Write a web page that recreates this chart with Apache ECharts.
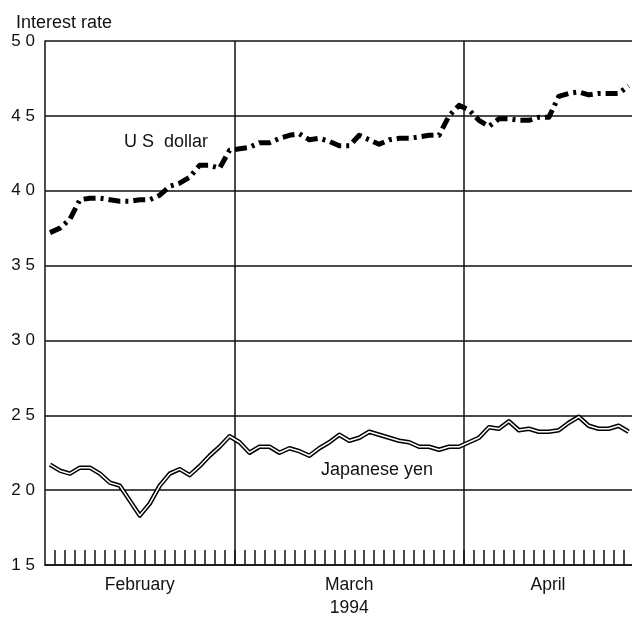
<!DOCTYPE html>
<html>
<head>
<meta charset="utf-8">
<script src="https://cdn.jsdelivr.net/npm/echarts@6/dist/echarts.min.js"></script>
<style>
  html, body { margin: 0; padding: 0; background: #fff; }
  #chart { width: 632px; height: 624px; }
</style>
</head>
<body>
<div id="chart"></div>
<script>
// Daily interest rates, February–April 1994 (one value per business day)
const usDollar = [
  3.72, 3.75, 3.81, 3.94, 3.95, 3.95, 3.94, 3.93, 3.93, 3.94,
  3.94, 3.97, 4.03, 4.05, 4.09, 4.17, 4.17, 4.15, 4.27,
  4.28, 4.29, 4.32, 4.32, 4.35, 4.37, 4.38, 4.34, 4.35, 4.33,
  4.30, 4.30, 4.37, 4.34, 4.31, 4.34, 4.35, 4.35, 4.36, 4.37,
  4.37, 4.50, 4.57,
  4.54, 4.47, 4.43, 4.48, 4.48, 4.47, 4.47, 4.49, 4.49, 4.63,
  4.65, 4.66, 4.64, 4.65, 4.65, 4.65, 4.70
];
const japaneseYen = [
  2.17, 2.13, 2.11, 2.15, 2.15, 2.11, 2.05, 2.03, 1.93, 1.83,
  1.91, 2.03, 2.11, 2.14, 2.10, 2.16, 2.23, 2.29, 2.36,
  2.32, 2.25, 2.29, 2.29, 2.25, 2.28, 2.26, 2.23, 2.28, 2.32,
  2.37, 2.33, 2.35, 2.39, 2.37, 2.35, 2.33, 2.32, 2.29, 2.29,
  2.27, 2.29, 2.29,
  2.32, 2.35, 2.42, 2.41, 2.46, 2.40, 2.41, 2.39, 2.39, 2.40,
  2.45, 2.49, 2.43, 2.41, 2.41, 2.43, 2.39
];
// Month spans in business days
const months = ['February', 'March', 'April'];
const monthDays = [19, 23, 16.84];
const yearLabel = '1994';

// Day positions: each value sits in the middle of its day slot
const xs = usDollar.map((_, i) => i + 0.5);
const usData = usDollar.map((v, i) => [xs[i], v]);
const yenData = japaneseYen.map((v, i) => [xs[i], v]);

// Month boundaries and centers along the day axis
const bounds = [];
const centers = [];
let acc = 0;
monthDays.forEach(d => { centers.push(acc + d / 2); acc += d; bounds.push(acc); });
const xMax = acc;
const dayTicks = [];
for (let d = 1; d < xMax; d++) dayTicks.push(d);

const font = '"Liberation Sans", Arial, Helvetica, sans-serif';
const chart = echarts.init(document.getElementById('chart'), null, { renderer: 'canvas' });

chart.setOption({
  animation: false,
  backgroundColor: '#fff',
  grid: { left: 45, right: 0, top: 41, bottom: 59 },
  title: {
    text: 'Interest rate', left: 11, top: 9,
    textStyle: { fontFamily: font, fontSize: 18, fontWeight: 'normal', color: '#111' }
  },
  xAxis: [{
    type: 'value', min: 0, max: xMax,
    axisLine: { show: true, lineStyle: { color: '#111', width: 1.5 } },
    axisTick: { show: true, inside: true, length: 15, customValues: dayTicks,
      lineStyle: { color: '#111', width: 1.5 } },
    axisLabel: {
      customValues: centers, margin: 11,
      formatter: v => months[centers.findIndex(c => Math.abs(c - v) < 1e-6)] || '',
      fontFamily: font, fontSize: 17.5, color: '#111'
    },
    splitLine: { show: false }
  }, {
    type: 'value', min: 0, max: xMax, position: 'bottom',
    axisLine: { show: false }, axisTick: { show: false }, splitLine: { show: false },
    axisLabel: {
      customValues: [centers[1]], margin: 34,
      formatter: () => yearLabel,
      fontFamily: font, fontSize: 17.5, color: '#111'
    }
  }],
  yAxis: {
    type: 'value', min: 1.5, max: 5.0, interval: 0.5,
    axisLine: { show: true, lineStyle: { color: '#111', width: 1.5 } },
    axisTick: { show: false },
    axisLabel: {
      margin: 10, fontFamily: font, fontSize: 17, color: '#111',
      formatter: v => v.toFixed(1).replace('.', ' ')
    },
    splitLine: { show: true, lineStyle: { color: '#111', width: 1.5 } }
  },
  graphic: [
    { type: 'text', left: 124, top: 133,
      style: { text: 'U S  dollar', font: '18px ' + font, fill: '#111' } },
    { type: 'text', left: 321, top: 461,
      style: { text: 'Japanese yen', font: '18px ' + font, fill: '#111' } }
  ],
  series: [
    {
      name: 'Month boundaries', type: 'line', data: [], silent: true,
      markLine: {
        silent: true, symbol: 'none', label: { show: false },
        lineStyle: { color: '#111', width: 1.5, type: 'solid' },
        data: bounds.slice(0, 2).map(b => ({ xAxis: b }))
      }
    },
    {
      name: 'US dollar', type: 'line', data: usData, showSymbol: false,
      lineStyle: { color: '#000', width: 5, type: [12, 5, 3, 5], cap: 'butt', join: 'round' },
      z: 5
    },
    {
      name: 'Japanese yen', type: 'line', data: yenData, showSymbol: false,
      lineStyle: { color: '#000', width: 4.5, join: 'round' }, z: 5
    },
    {
      name: 'Japanese yen inner', type: 'line', data: yenData, showSymbol: false,
      lineStyle: { color: '#fff', width: 1.5, join: 'round' }, z: 6
    }
  ]
});
</script>
</body>
</html>
